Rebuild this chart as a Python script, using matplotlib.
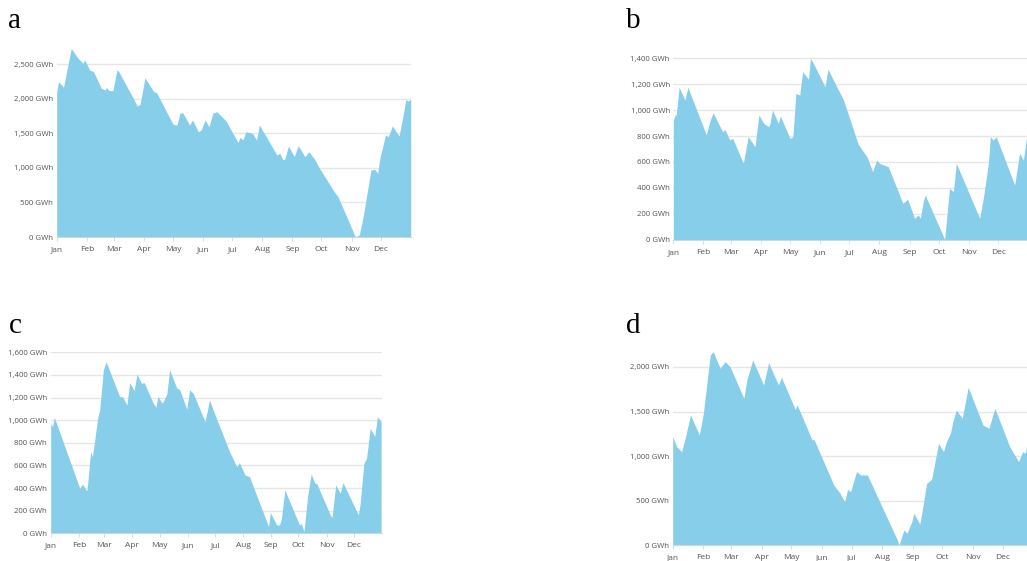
import matplotlib
matplotlib.use("Agg")
import matplotlib.pyplot as plt
from matplotlib.ticker import FuncFormatter

months = ["Jan", "Feb", "Mar", "Apr", "May", "Jun", "Jul", "Aug", "Sep", "Oct", "Nov", "Dec"]
month_starts = [0, 31, 59, 90, 120, 151, 181, 212, 243, 273, 304, 334]

# Panel a: storage level (GWh) by day of year
a_days = [0, 2, 7, 15, 22, 27, 29, 34, 38, 46, 50, 51, 54, 58, 62, 64, 79, 83, 86, 91,
          100, 103, 120, 124, 127, 130, 137, 140, 146, 149, 153, 157, 161, 165, 172, 175,
          187, 189, 192, 195, 202, 206, 209, 227, 230, 233, 235, 239, 245, 249, 256, 260,
          266, 271, 285, 290, 308, 312, 316, 324, 328, 331, 333, 339, 342, 346, 353, 357,
          360, 362, 365]
a_vals = [2100, 2245, 2163, 2726, 2582, 2510, 2558, 2413, 2389, 2148, 2124, 2163, 2115, 2115,
          2413, 2389, 2004, 1893, 1917, 2302, 2100, 2086, 1628, 1618, 1787, 1797, 1618, 1691,
          1522, 1546, 1691, 1594, 1787, 1811, 1715, 1667, 1363, 1440, 1402, 1522, 1498, 1402,
          1618, 1185, 1209, 1122, 1122, 1315, 1161, 1320, 1161, 1233, 1122, 992, 679, 583, 0,
          29, 294, 968, 978, 920, 1122, 1474, 1450, 1604, 1460, 1739, 1989, 1965, 1989]

# Panel b
b_days = [0, 2, 3, 6, 12, 15, 34, 38, 41, 48, 51, 53, 58, 61, 72, 77, 84, 88, 93, 98, 99,
          102, 108, 110, 120, 123, 126, 130, 133, 139, 141, 144, 156, 159, 175, 190, 199,
          205, 209, 212, 221, 236, 241, 248, 252, 254, 257, 259, 279, 284, 288, 291, 315,
          319, 324, 326, 329, 332, 351, 356, 360, 364]
b_vals = [923, 962, 962, 1174, 1077, 1174, 808, 923, 979, 872, 833, 851, 769, 782, 590, 795,
          718, 962, 897, 872, 885, 1000, 897, 954, 782, 795, 1128, 1115, 1295, 1236, 1397,
          1359, 1179, 1313, 1077, 738, 641, 526, 615, 590, 564, 282, 313, 167, 192, 167, 295,
          346, 5, 397, 372, 590, 167, 333, 590, 795, 769, 795, 423, 667, 615, 833]

# Panel c
c_days = [0, 2, 4, 32, 35, 39, 40, 44, 46, 52, 54, 58, 61, 76, 79, 84, 87, 92, 95, 100, 103,
          113, 116, 118, 123, 128, 131, 139, 142, 150, 153, 157, 170, 175, 179, 197, 205, 208,
          214, 219, 240, 242, 249, 252, 254, 258, 274, 276, 279, 283, 287, 291, 293, 308, 310,
          314, 319, 322, 339, 341, 345, 348, 352, 357, 360, 364]
c_vals = [972, 943, 1025, 398, 436, 383, 377, 722, 678, 1031, 1090, 1444, 1517, 1208, 1208,
          1134, 1332, 1261, 1408, 1326, 1332, 1149, 1114, 1208, 1149, 1232, 1444, 1282, 1273,
          1096, 1267, 1237, 987, 1179, 1090, 722, 589, 624, 516, 501, 59, 183, 74, 74, 118, 383,
          74, 88, 15, 324, 524, 442, 442, 162, 141, 427, 354, 448, 162, 265, 619, 663, 928, 855,
          1031, 987]

# Panel d
d_days = [0, 4, 9, 13, 18, 27, 31, 38, 41, 48, 53, 58, 72, 75, 81, 92, 97, 107, 110, 124, 126,
          141, 143, 163, 169, 174, 177, 180, 186, 190, 197, 227, 229, 234, 237, 242, 244, 250,
          252, 257, 262, 269, 274, 277, 281, 284, 287, 293, 299, 314, 320, 326, 341, 350, 354,
          357, 359, 365]
d_vals = [1217, 1105, 1049, 1217, 1461, 1236, 1479, 2135, 2172, 1985, 2060, 2004, 1648, 1854,
          2079, 1798, 2049, 1798, 1884, 1524, 1573, 1180, 1187, 674, 588, 487, 625, 599, 824,
          787, 787, 64, 0, 169, 131, 262, 356, 236, 356, 693, 738, 1142, 1049, 1161, 1255, 1412,
          1517, 1423, 1772, 1348, 1311, 1536, 1105, 936, 1049, 1030, 1180, 1260]

panels = [
    ("a", a_days, a_vals, [0, 500, 1000, 1500, 2000, 2500], 2750,
     [56.7, 237.0, 354.0, 190.3], (8, 28)),
    ("b", b_days, b_vals, [0, 200, 400, 600, 800, 1000, 1200, 1400], 1420,
     [673.3, 240.0, 355.0, 184.6], (626, 28)),
    ("c", c_days, c_vals, [0, 200, 400, 600, 800, 1000, 1200, 1400, 1600], 1600,
     [50.7, 533.3, 331.3, 181.0], (9, 333)),
    ("d", d_days, d_vals, [0, 500, 1000, 1500, 2000], 2200,
     [672.7, 545.0, 360.7, 195.8], (626, 333)),
]

W, H = 1027, 561
fig = plt.figure(figsize=(W / 100, H / 100), dpi=100)
fill_color = "#87CEEB"
tick_font = "Open Sans"

for label, days, vals, yticks, ytop, (l, b, w, h), (tx, ty) in panels:
    ax = fig.add_axes([l / W, (H - b) / H, w / W, h / H])
    ax.fill_between(days, vals, 0, color=fill_color, linewidth=0, zorder=2)
    ax.set_xlim(0, 365)
    ax.set_ylim(0, ytop)
    ax.set_yticks(yticks)
    ax.yaxis.set_major_formatter(FuncFormatter(lambda v, p: f"{int(v):,} GWh"))
    ax.set_xticks(month_starts)
    ax.set_xticklabels(months)
    ax.grid(axis="y", color="#e6e6e6", linewidth=1.0, zorder=1)
    ax.set_axisbelow(True)
    for s in ["top", "right", "left"]:
        ax.spines[s].set_visible(False)
    ax.spines["bottom"].set_color("#ccd6eb")
    ax.spines["bottom"].set_linewidth(0.8)
    ax.spines["bottom"].set_zorder(3)
    ax.tick_params(axis="y", length=0, pad=2.5, labelsize=5.6, labelcolor="#555555")
    ax.tick_params(axis="x", length=3, width=0.6, color="#ccd6eb", pad=7.0,
                   labelsize=6.0, labelcolor="#555555")
    for t in ax.get_xticklabels():
        t.set_fontfamily(tick_font)
        t.set_verticalalignment("baseline")
    for t in ax.get_yticklabels():
        t.set_fontfamily(tick_font)
    fig.text(tx / W, (H - ty) / H, label, fontsize=21, family="Liberation Serif",
             ha="left", va="baseline", color="black")

fig.savefig("out.png", dpi=100)
